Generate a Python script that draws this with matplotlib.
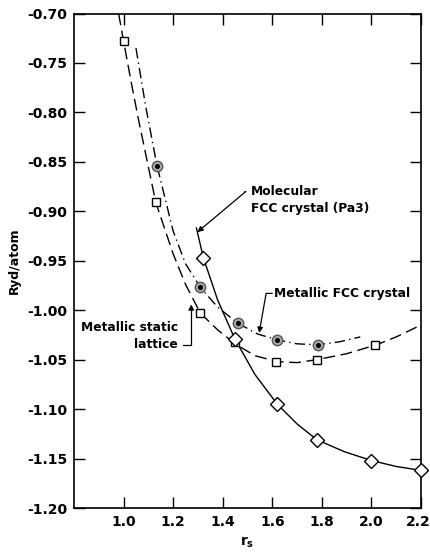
import matplotlib
matplotlib.use("Agg")
import matplotlib.pyplot as plt
import matplotlib.transforms as mtransforms

plt.rcParams['font.family'] = ['DejaVu Sans']
plt.rcParams['axes.unicode_minus'] = False

# Marker data
sq_x = [1.0, 1.13, 1.31, 1.449, 1.616, 1.78, 2.016]
sq_y = [-0.728, -0.891, -1.003, -1.032, -1.052, -1.050, -1.035]
circ_x = [1.135, 1.31, 1.461, 1.62, 1.784]
circ_y = [-0.854, -0.977, -1.013, -1.030, -1.035]
dia_x = [1.322, 1.449, 1.62, 1.78, 2.0, 2.2]
dia_y = [-0.947, -1.029, -1.095, -1.131, -1.152, -1.162]

# Curves
dash_x = [0.98, 1.0, 1.035, 1.06, 1.13, 1.2, 1.25, 1.31, 1.38, 1.45, 1.53, 1.62, 1.70, 1.78, 1.90, 2.02, 2.1, 2.2]
dash_y = [-0.70, -0.728, -0.775, -0.807, -0.891, -0.943, -0.974, -1.003, -1.020, -1.034, -1.046, -1.052, -1.053, -1.050, -1.044, -1.035, -1.027, -1.015]
dd_x = [1.05, 1.09, 1.135, 1.2, 1.25, 1.31, 1.38, 1.46, 1.54, 1.62, 1.70, 1.784, 1.87, 1.955]
dd_y = [-0.735, -0.795, -0.854, -0.920, -0.953, -0.977, -0.997, -1.013, -1.024, -1.030, -1.034, -1.035, -1.032, -1.027]
sol_x = [1.294, 1.322, 1.38, 1.449, 1.53, 1.62, 1.70, 1.78, 1.89, 2.0, 2.1, 2.2]
sol_y = [-0.917, -0.947, -0.990, -1.029, -1.065, -1.095, -1.115, -1.131, -1.143, -1.152, -1.158, -1.162]

xticks = [1.0, 1.2, 1.4, 1.6, 1.8, 2.0, 2.2]
yticks = [-1.20, -1.15, -1.10, -1.05, -1.00, -0.95, -0.90, -0.85, -0.80, -0.75, -0.70]

fig = plt.figure(figsize=(4.30, 5.54), dpi=100)
ax = fig.add_axes([74/430, 46/554, (421-74)/430, (508-13.5)/554])
ax.set_xlim(0.8, 2.2)
ax.set_ylim(-1.20, -0.70)

lw = 1.0
ax.plot(dash_x, dash_y, color='black', lw=lw, linestyle=(0, (8.5, 4)))
ax.plot(dd_x, dd_y, color='black', lw=lw, linestyle=(0, (7.5, 3, 1, 3)))
ax.plot(sol_x, sol_y, color='black', lw=lw)

ax.plot(sq_x, sq_y, linestyle='none', marker='s', markersize=6, mfc='white', mec='black', mew=1.0, zorder=5)
ax.plot(circ_x, circ_y, linestyle='none', marker='o', markersize=7.5, mfc='#a8a8a8', mec='#555555', mew=1.0, zorder=5)
ax.plot(circ_x, circ_y, linestyle='none', marker='o', markersize=2.6, mfc='black', mec='black', zorder=6)
ax.plot(dia_x, dia_y, linestyle='none', marker='D', markersize=7, mfc='white', mec='black', mew=1.0, zorder=5, clip_on=False)

ax.set_xticks(xticks)
ax.set_xticklabels([f"{v:.1f}" for v in xticks])
ax.set_yticks(yticks)
ax.set_yticklabels([f"{v:.2f}" for v in yticks])
ax.tick_params(direction='in', length=8, width=1.0, top=True, right=True,
               labelsize=10, pad=5)
for lab in ax.get_xticklabels() + ax.get_yticklabels():
    lab.set_fontweight('bold')
# nudge last x tick label so it stays inside the figure
last = ax.get_xticklabels()[-1]
last.set_transform(last.get_transform() + mtransforms.ScaledTranslation(-3/100, 0, fig.dpi_scale_trans))
for s in ax.spines.values():
    s.set_linewidth(1.2)

ax.set_ylabel('Ryd/atom', fontsize=9, fontweight='bold', labelpad=4)
ax.set_xlabel(r'$\mathbf{r_s}$', fontsize=10, labelpad=4)

tfs = 8.8
ax.text(1.515, -0.8885, 'Molecular\nFCC crystal (Pa3)', fontsize=tfs, fontweight='bold',
        ha='left', va='center', linespacing=1.4)
ax.annotate('', xy=(1.298, -0.921), xytext=(1.49, -0.880),
            arrowprops=dict(arrowstyle='-|>', lw=0.9, color='black', mutation_scale=8,
                            shrinkA=0, shrinkB=0,
                            connectionstyle='angle,angleA=0,angleB=40,rad=0'))

ax.text(1.605, -0.983, 'Metallic FCC crystal', fontsize=tfs, fontweight='bold',
        ha='left', va='center')
ax.annotate('', xy=(1.547, -1.023), xytext=(1.600, -0.983),
            arrowprops=dict(arrowstyle='-|>', lw=0.9, color='black', mutation_scale=8,
                            shrinkA=0, shrinkB=0,
                            connectionstyle='angle,angleA=180,angleB=80,rad=0'))

ax.text(1.22, -1.0265, 'Metallic static\nlattice', fontsize=tfs, fontweight='bold',
        ha='right', va='center', linespacing=1.4)
ax.annotate('', xy=(1.273, -0.994), xytext=(1.24, -1.035),
            arrowprops=dict(arrowstyle='-|>', lw=0.9, color='black', mutation_scale=8,
                            shrinkA=0, shrinkB=0,
                            connectionstyle='angle,angleA=0,angleB=90,rad=0'))

fig.savefig('out.png', dpi=100)
